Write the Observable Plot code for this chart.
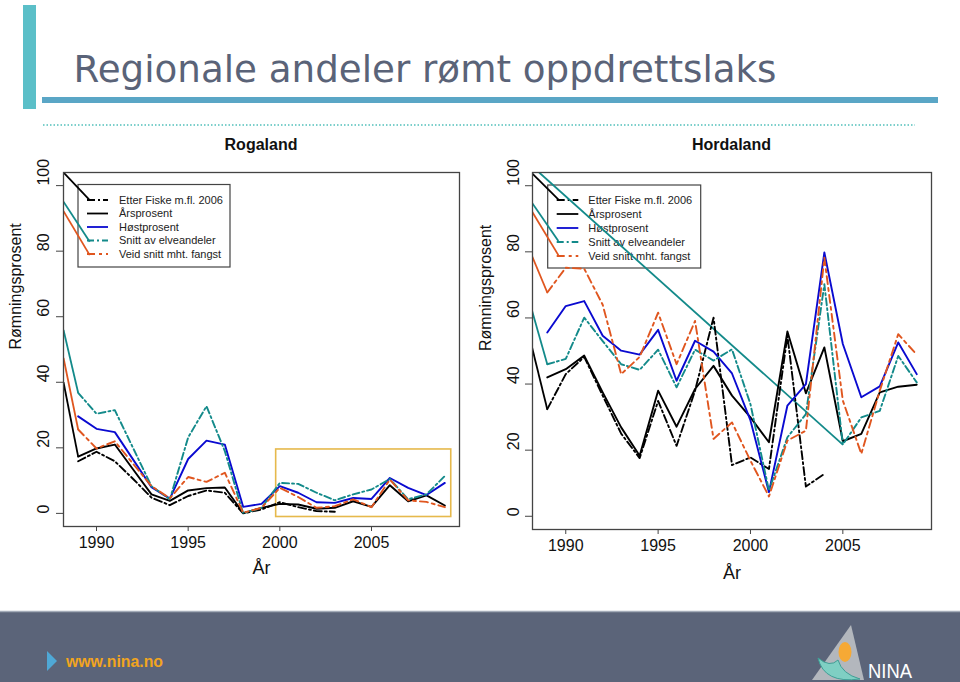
<!DOCTYPE html>
<html><head><meta charset="utf-8">
<script src="https://cdn.jsdelivr.net/npm/d3@7"></script>
<script src="https://cdn.jsdelivr.net/npm/@observablehq/plot@0.6"></script>
<style>
html,body{margin:0;padding:0;background:#fff;}
#page{position:relative;width:960px;height:682px;overflow:hidden;font-family:"Liberation Sans",Arial,sans-serif;}
.abs{position:absolute;}
</style></head><body><div id="page">
<svg class="abs" style="left:0;top:0" width="960" height="682">
  <rect x="23" y="5" width="13" height="104" fill="#5bbfc8"/>
  <rect x="42" y="97" width="896" height="6" fill="#5aa6c6"/>
  <line x1="43" x2="915" y1="125" y2="125" stroke="#7ccfcb" stroke-width="2" stroke-dasharray="1.5,2"/>
  <text x="73.5" y="82" font-family="DejaVu Sans" font-size="38" fill="#5a6378" textLength="703" lengthAdjust="spacingAndGlyphs">Regionale andeler rømt oppdrettslaks</text>
  <text x="261" y="150" text-anchor="middle" font-family="Liberation Sans" font-weight="bold" font-size="16" fill="#111">Rogaland</text>
  <text x="731.5" y="150" text-anchor="middle" font-family="Liberation Sans" font-weight="bold" font-size="16" fill="#111">Hordaland</text>
  <rect x="0" y="611" width="960" height="71" fill="#5b6479"/>
  <line x1="0" x2="960" y1="611.5" y2="611.5" stroke="#a3abb8" stroke-width="1.5"/>
  <polygon points="47,651 57,661 47,671" fill="#4fa8d6"/>
  <text x="66" y="667" font-family="Liberation Sans" font-size="16" font-weight="bold" fill="#f2a51e" textLength="97" lengthAdjust="spacingAndGlyphs">www.nina.no</text>
  <polygon points="851,625 812,680 864,680" fill="#b3b7bd"/>
  <path d="M818,658 Q824,684 860,679 Q842,674 838,660 Q830,668 818,658 Z" fill="#7fcfc3" stroke="#3e9f96" stroke-width="1"/>
  <ellipse cx="845" cy="652" rx="6.5" ry="10" fill="#f6a935"/>
  <text x="868" y="678" font-family="Liberation Sans" font-size="20" fill="#fff" textLength="44" lengthAdjust="spacingAndGlyphs">NINA</text>
</svg>
<div id="rog" class="abs" style="left:0;top:160px"></div>
<div id="hord" class="abs" style="left:470px;top:160px"></div>
</div>
<script>
// ---- data ----
const years = [1989,1990,1991,1992,1993,1994,1995,1996,1997,1998,1999,2000,2001,2002,2003,2004,2005,2006,2007,2008,2009];
const seriesNames = ["Etter Fiske m.fl. 2006","Årsprosent","Høstprosent","Snitt av elveandeler","Veid snitt mht. fangst"];
const yTicks = [0,20,40,60,80,100];
const xTicks = [1990,1995,2000,2005];
const xLabel = "År";
const yLabel = "Rømningsprosent";

// Rogaland
const rogFiske = [15.9,18.8,15.9,10.5,4.8,2.5,5.3,7.0,6.3,0.0,1.2,3.4,1.9,0.7,0.5,null,null,null,null,null,null];
const rogAars  = [17.3,19.8,21.0,13.4,5.8,3.8,7.0,7.7,7.9,0.1,1.7,2.9,2.7,1.4,1.7,3.7,2.0,8.6,3.7,5.5,2.4];
const rogHost  = [29.6,25.8,24.8,16.4,8.0,4.5,16.6,22.2,21.0,2.0,2.9,8.3,6.3,3.4,3.2,4.7,4.4,10.8,7.8,5.6,9.3];
const rogSnitt = [36.8,30.4,31.5,19.9,8.3,4.3,23.2,32.7,19.0,0.0,1.7,9.3,9.0,6.3,4.0,5.8,7.3,10.5,4.3,5.8,11.4];
const rogVeid  = [25.6,19.8,22.0,15.1,8.3,4.6,11.1,9.6,12.4,0.2,1.7,7.8,5.0,1.7,2.2,4.3,1.9,10.3,4.0,3.5,1.9];
// stray solid segments in the original (year/value endpoints)
const rogStraySeries = ["Årsprosent","Snitt av elveandeler","Veid snitt mht. fangst","Årsprosent","Snitt av elveandeler","Veid snitt mht. fangst"];
const rogStrayX1 = [1988.2,1988.2,1988.2,1988.2,1988.2,1988.2];
const rogStrayY1 = [104,95.1,92.2,40.0,56.0,47.4];
const rogStrayX2 = [1989.63,1989.63,1989.63,1989,1989,1989];
const rogStrayY2 = [95.6,82.9,78.8,17.3,36.8,25.6];
// highlight box (years / percent)
const rogBoxX = [1999.8, 2009.35];
const rogBoxY = [-1.1, 19.5];

// Hordaland
const hordFiske = [32.4,43.0,48.2,36.5,25.0,17.6,34.9,21.3,38.0,60.1,15.5,17.8,14.3,54.6,9.0,12.8,null,null,null,null,null];
const hordAars  = [42.0,44.5,48.6,37.5,26.9,18.3,38.0,27.1,38.5,45.5,36.5,29.9,22.4,55.9,37.2,51.1,22.7,24.9,37.5,39.2,39.8];
const hordHost  = [55.6,63.6,65.1,54.6,50.1,48.9,56.4,41.0,53.1,49.8,43.2,29.0,7.3,33.5,40.0,79.8,52.1,36.0,39.3,52.6,43.0];
const hordSnitt = [46.0,47.6,60.1,53.0,46.0,44.3,50.4,39.0,50.4,47.1,50.5,33.9,7.8,23.9,30.9,70.2,21.7,29.9,31.9,48.5,40.5];
const hordVeid  = [67.7,75.2,74.9,64.0,43.0,48.2,61.6,46.0,59.1,23.4,28.4,16.8,6.0,22.9,25.9,78.2,35.0,18.9,38.0,55.1,48.9];
const hordStraySeries = ["Årsprosent","Snitt av elveandeler","Snitt av elveandeler","Veid snitt mht. fangst","Veid snitt mht. fangst","Snitt av elveandeler","Årsprosent"];
const hordStrayX1 = [1988.13,1988.56,1988.13,1988.13,1988.13,1988.13,1988.13];
const hordStrayY1 = [104,104,95.2,92.6,79.3,63.1,52.1];
const hordStrayX2 = [1989.65,2005,1989.6,1989.6,1989,1989,1989];
const hordStrayY2 = [95.6,21.7,83.3,79.0,67.7,46.0,32.4];

// ---- styles ----
const colorOf = {"Etter Fiske m.fl. 2006":"#000000","Årsprosent":"#000000","Høstprosent":"#0a0ad0","Snitt av elveandeler":"#138a8a","Veid snitt mht. fangst":"#e0561f"};
const dashOf = {"Etter Fiske m.fl. 2006":"8,3,2,3","Årsprosent":null,"Høstprosent":null,"Snitt av elveandeler":"7,3,2,3","Veid snitt mht. fangst":"8,4,3,4"};

function legendMark(box) {
  return (index, scales, values, dims) => {
    const g = d3.create("svg:g").attr("text-anchor", "start");
    const x0 = dims.marginLeft, y0 = dims.marginTop;
    g.append("rect").attr("x", x0 + box.x).attr("y", y0 + box.y).attr("width", box.w).attr("height", box.h)
      .attr("fill", "white").attr("stroke", "#444").attr("stroke-width", 1.2);
    seriesNames.forEach((name, i) => {
      const yy = y0 + box.first + i * box.step;
      const ln = g.append("line").attr("x1", x0 + box.k1).attr("x2", x0 + box.k2).attr("y1", yy).attr("y2", yy)
        .attr("stroke", colorOf[name]).attr("stroke-width", 1.8);
      if (dashOf[name]) ln.attr("stroke-dasharray", dashOf[name]);
      g.append("text").attr("x", x0 + box.t).attr("y", yy).attr("dy", "0.36em").attr("text-anchor", "start")
        .attr("font-size", 11).attr("fill", "#222").text(name);
    });
    return g.node();
  };
}

function panel(cfg) {
  const series = [
    [seriesNames[0], cfg.fiske], [seriesNames[1], cfg.aars], [seriesNames[2], cfg.host],
    [seriesNames[3], cfg.snitt], [seriesNames[4], cfg.veid]
  ];
  const strays = cfg.strayS.map((s, i) => ({s, x1: cfg.strayX1[i], y1: cfg.strayY1[i], x2: cfg.strayX2[i], y2: cfg.strayY2[i]}));
  const marks = [
    legendMark(cfg.legend),
    Plot.axisY({ticks: yTicks, tickSize: 7, tickFormat: () => "", label: null, stroke: "#444"}),
    Plot.axisX({ticks: xTicks, tickSize: 5, tickFormat: () => "", label: null, stroke: "#444"}),
    Plot.text(yTicks, {y: d => d, text: d => String(d), frameAnchor: "left", dx: cfg.tickDx, rotate: -90, fontSize: 16, fill: "#111"}),
    Plot.text(xTicks, {x: d => d, text: d => String(d), frameAnchor: "bottom", dy: cfg.xTickDy, fontSize: 16, fill: "#111"}),
    Plot.text([xLabel], {text: d => d, frameAnchor: "bottom", dy: cfg.xLabDy, fontSize: 18, fill: "#111"}),
    Plot.text([yLabel], {text: d => d, frameAnchor: "left", dx: cfg.yLabDx, rotate: -90, fontSize: 16, fill: "#111"})
  ];
  if (cfg.boxX) {
    marks.push(Plot.rect([0], {x1: () => cfg.boxX[0], x2: () => cfg.boxX[1], y1: () => cfg.boxY[0], y2: () => cfg.boxY[1], fill: "none", stroke: "#e6b94c", strokeWidth: 1.6}));
  }
  for (const name of seriesNames) {
    const seg = strays.filter(d => d.s === name);
    if (seg.length) marks.push(Plot.link(seg, {x1: "x1", y1: "y1", x2: "x2", y2: "y2", stroke: colorOf[name], strokeWidth: 1.8, clip: true}));
  }
  for (const [name, vals] of series) {
    const data = years.map((y, i) => ({year: y, v: vals[i]})).filter(d => d.v != null);
    marks.push(Plot.line(data, {x: "year", y: "v", stroke: colorOf[name], strokeWidth: 1.9,
      strokeDasharray: dashOf[name] || undefined, clip: true}));
  }
  marks.push(Plot.frame({stroke: "#444", strokeWidth: 1.3}));
  return Plot.plot({
    width: cfg.width, height: 430,
    marginLeft: cfg.ml, marginRight: cfg.mr, marginTop: 12, marginBottom: cfg.mb,
    x: {domain: [1988.2, 2009.8], axis: null},
    y: {domain: [-4, 104], axis: null},
    style: {background: "transparent", fontFamily: "Liberation Sans, Arial, sans-serif", overflow: "visible"},
    marks
  });
}

document.getElementById("rog").append(panel({
  width: 470, ml: 63, mr: 11, mb: 64,
  fiske: rogFiske, aars: rogAars, host: rogHost, snitt: rogSnitt, veid: rogVeid,
  strayS: rogStraySeries, strayX1: rogStrayX1, strayY1: rogStrayY1, strayX2: rogStrayX2, strayY2: rogStrayY2,
  boxX: rogBoxX, boxY: rogBoxY,
  legend: {x: 15, y: 12.5, w: 152, h: 82.5, k1: 24, k2: 45, t: 56, first: 28, step: 13.5},
  tickDx: -20, xTickDy: 21, xLabDy: 47, yLabDx: -48
}));
document.getElementById("hord").append(panel({
  width: 480, ml: 62, mr: 19, mb: 61,
  fiske: hordFiske, aars: hordAars, host: hordHost, snitt: hordSnitt, veid: hordVeid,
  strayS: hordStraySeries, strayX1: hordStrayX1, strayY1: hordStrayY1, strayX2: hordStrayX2, strayY2: hordStrayY2,
  legend: {x: 15.7, y: 13, w: 153, h: 83, k1: 24.7, k2: 46.3, t: 56.3, first: 28, step: 14},
  tickDx: -19, xTickDy: 21, xLabDy: 49, yLabDx: -47
}));
</script>
</body></html>
